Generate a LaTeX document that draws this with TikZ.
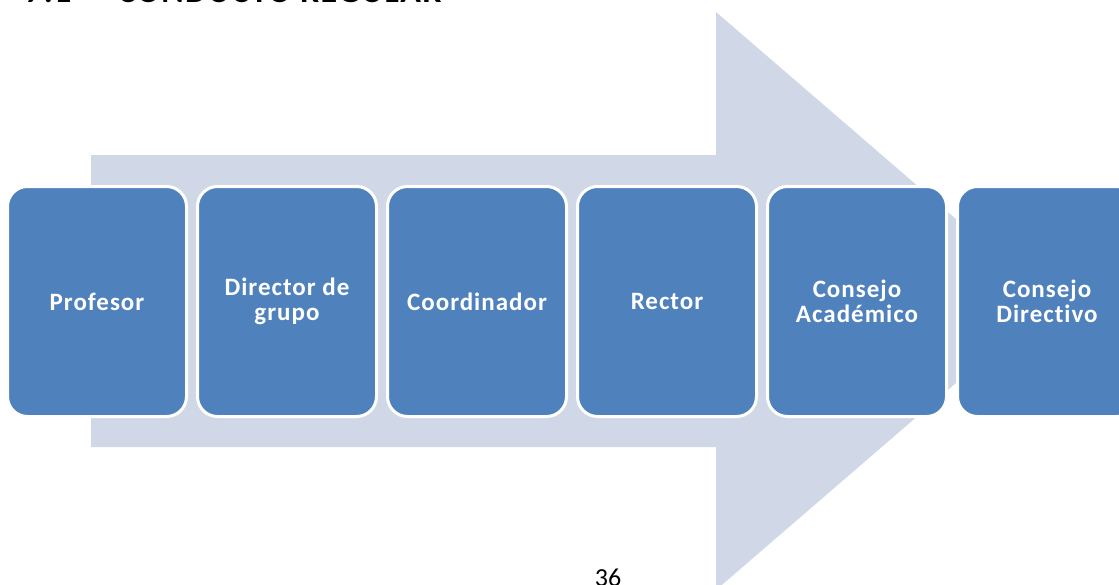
\documentclass[tikz,border=0pt]{standalone}
\usepackage{fontspec}
\setmainfont{Carlito}
\newfontfamily\boxfont[LetterSpace=4,Ligatures=NoCommon]{Carlito}
\definecolor{arrowgrey}{HTML}{D0D8E8}
\definecolor{boxblue}{HTML}{4F81BD}
\tikzset{
  stagebox/.style={draw=white, line width=3pt, fill=boxblue, rounded corners=20pt,
    minimum width=179pt, minimum height=230pt, inner sep=0pt, align=center,
    text=white, font=\boxfont\bfseries\fontsize{25}{25}\selectfont},
  bigarrow/.style={fill=arrowgrey, draw=none}
}
\begin{document}
\begin{tikzpicture}[x=1pt,y=-1pt]
\clip (0,0) rectangle (1119,584);
\fill[white] (0,0) rectangle (1119,584);
% title (cut off at top)
\node[anchor=base west, inner sep=0pt, font=\boxfont\bfseries\fontsize{34}{34}\selectfont] (title) at (25,2) {7.1 \,–\, CONDUCTO REGULAR};
% big arrow
\path[bigarrow] (91,155) -- (716,155) -- (716,12) -- (1051,301) -- (716,590) -- (716,447) -- (91,447) -- cycle;
% stages
\node[stagebox] (n1) at (97,301.5) {Profesor};
\node[stagebox] (n2) at (287,301.5) {Director de\\grupo};
\node[stagebox] (n3) at (477,301.5) {Coordinador};
\node[stagebox] (n4) at (667,301.5) {Rector};
\node[stagebox] (n5) at (857,301.5) {Consejo\\Académico};
\node[stagebox] (n6) at (1047,301.5) {Consejo\\Directivo};
% page number
\node[anchor=base, inner sep=0pt, font=\fontsize{26}{26}\selectfont] (page) at (608,586) {36};
\end{tikzpicture}
\end{document}
